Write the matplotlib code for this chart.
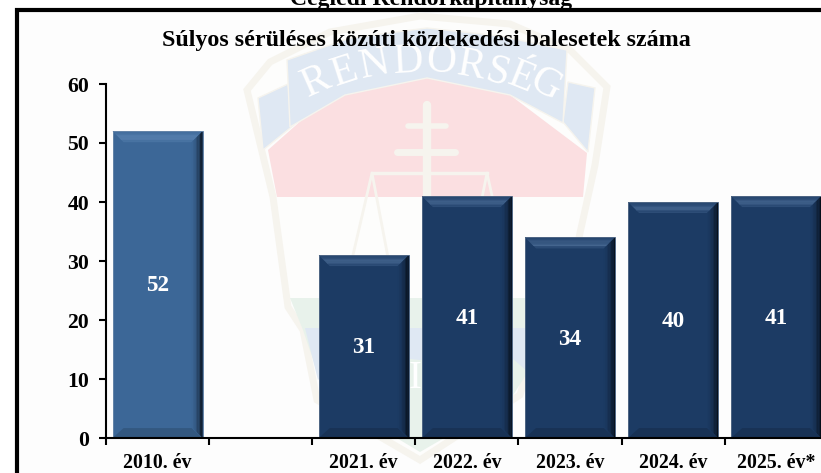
import matplotlib
matplotlib.use('Agg')
import matplotlib.pyplot as plt
from matplotlib.colors import to_rgb
from matplotlib.patches import Polygon, Rectangle

plt.rcParams['font.family'] = 'Liberation Serif'
plt.rcParams['font.weight'] = 'bold'

# data
categories = ['2010. év', '', '2021. év', '2022. év', '2023. év', '2024. év', '2025. év*']
positions = [0, 2, 3, 4, 5, 6]
values = [52, 31, 41, 34, 40, 41]
bar_colors = ['#3c6797', '#1c3b64', '#1c3b64', '#1c3b64', '#1c3b64', '#1c3b64']
y_ticks = [0, 10, 20, 30, 40, 50, 60]

page_title = 'Ceglédi Rendőrkapitányság'
chart_title = 'Súlyos sérüléses közúti közlekedési balesetek száma'


def mix(c1, c2, t):
    a, b = to_rgb(c1), to_rgb(c2)
    return tuple(a[i] + (b[i] - a[i]) * t for i in range(3))


fig = plt.figure(figsize=(8.21, 4.73), dpi=100)

# background layer in pixel coordinates: frame and faded badge
bg = fig.add_axes([0, 0, 1, 1], zorder=0)
bg.set_xlim(0, 821)
bg.set_ylim(473, 0)
bg.axis('off')
bg.add_patch(Rectangle((17, 9.6), 810, 470, fc='#fdfdfd', ec='black', lw=3))

beige = '#f6f4ee'
blue = '#dfe8f3'
red = '#fbdfe1'
green = '#e8f2eb'
badge = [(247, 90), (270, 62), (330, 32), (420, 16), (510, 24), (570, 50), (607, 87),
         (595, 165), (580, 233), (565, 305), (535, 345), (520, 395), (420, 460), (317, 400),
         (303, 330), (288, 307), (273, 197)]
bg.add_patch(Polygon(badge, fc='#fdfdfc', ec=beige, lw=5))
# red and green fields
bg.add_patch(Polygon([(277, 197), (268, 150), (330, 95), (427, 78), (510, 95), (587, 153), (583, 197)], fc=red, ec='none'))
bg.add_patch(Polygon([(290, 298), (568, 298), (545, 345), (510, 400), (420, 452), (325, 395), (303, 330)], fc=green, ec='none'))
# lower ribbon
bg.add_patch(Polygon([(305, 328), (555, 328), (535, 378), (505, 352), (420, 360), (345, 352), (318, 380)],
                     fc=blue, ec='none'))
# upper ribbon with its folded tails
bg.add_patch(Polygon([(258, 98), (288, 84), (294, 125), (263, 150)], fc=blue, ec=beige, lw=1))
bg.add_patch(Polygon([(595, 88), (568, 82), (563, 122), (588, 152)], fc=blue, ec=beige, lw=1))
bg.add_patch(Polygon([(287, 60), (350, 38), (427, 28), (500, 36), (567, 50), (563, 123), (510, 95),
                      (427, 78), (345, 95), (290, 127)], fc=blue, ec=beige, lw=1))
banner_letters = ['R', 'E', 'N', 'D', 'O', 'R', 'S', 'É', 'G']
letter_x = [316, 345, 375, 408, 441, 471, 497, 521, 545]
letter_y = [82, 72, 65, 62, 62, 66, 73, 78, 85]
letter_rot = [24, 18, 11, 3, -4, -10, -16, -22, -28]
for c, lx, ly, rot in zip(banner_letters, letter_x, letter_y, letter_rot):
    bg.text(lx, ly, c, color='white', fontsize=30, rotation=rot, ha='center', va='center', fontweight='normal')
# cross and scales
bg.plot([427, 427], [105, 300], color=beige, lw=6, solid_capstyle='round')
bg.plot([397, 455], [152, 152], color=beige, lw=5, solid_capstyle='round')
bg.plot([408, 446], [126, 126], color=beige, lw=4, solid_capstyle='round')
bg.plot([372, 487], [173, 173], color=beige, lw=2.5)
bg.plot([350, 372, 390], [268, 173, 268], color=beige, lw=2)
bg.plot([468, 487, 508], [268, 173, 268], color=beige, lw=2)
bg.text(415, 378, 'I', color='white', fontsize=28, ha='center', va='center', fontweight='normal')

bg.text(431, 5, page_title, fontsize=17.1, ha='center', va='baseline', color='black')

# chart, right edge runs off the picture like in the source
ax = fig.add_axes([106 / 821, 1 - 438 / 473, 715 / 821, 354 / 473], zorder=1)
ax.patch.set_alpha(0)
ax.set_xlim(-0.5, -0.5 + 715 / 103.1)
ax.set_ylim(0, 60)

bar_w = 90 / 103.1
px_x = 1 / 103.1
px_y = 60 / 354
bev = 11

bars = ax.bar(positions, values, width=bar_w, color=bar_colors, edgecolor='none', zorder=2)
for rect, val, col in zip(bars, values, bar_colors):
    x0, x1 = rect.get_x(), rect.get_x() + bar_w
    dx = bev * px_x
    dy = bev * px_y

    # top bevel, brightens downwards then drops back
    steps = 9
    for i in range(steps):
        t0, t1 = i / steps, (i + 1) / steps
        light = 0.1 + 0.42 * t0 if i < 7 else 0.15
        ax.add_patch(Polygon([(x0 + dx * t0, val - dy * t0), (x1 - dx * t0, val - dy * t0),
                              (x1 - dx * t1, val - dy * t1), (x0 + dx * t1, val - dy * t1)],
                             fc=mix(col, '#8fb4e0', light), ec='none', zorder=3))
    # right side goes dark towards the edge
    steps = 8
    for i in range(steps):
        t0, t1 = i / steps, (i + 1) / steps
        ax.add_patch(Polygon([(x1 - dx * t0, val - dy * t0), (x1 - dx * t1, val - dy * t1),
                              (x1 - dx * t1, dy * t1), (x1 - dx * t0, dy * t0)],
                             fc=mix(col, '#040a12', 0.9 * (1 - t0) ** 1.8), ec='none', zorder=3))
    # bottom bevel
    ax.add_patch(Polygon([(x0, 0), (x1, 0), (x1 - dx, dy * 0.9), (x0 + dx, dy * 0.9)],
                         fc=mix(col, 'black', 0.15), ec='none', zorder=3))
    # thin grey outline
    ax.add_patch(Rectangle((x0, 0), bar_w, val, fc='none', ec=mix(col, '#c8ccd2', 0.3), lw=0.7, zorder=4))

    ax.annotate(str(val), (rect.get_x() + bar_w / 2, val / 2), xytext=(0, -1), textcoords='offset points',
                color='white', fontsize=16.7, ha='center', va='center', zorder=5)

for s in ['top', 'right']:
    ax.spines[s].set_visible(False)
for s in ['left', 'bottom']:
    ax.spines[s].set_linewidth(1.5)
    ax.spines[s].set_zorder(6)

ax.set_yticks(y_ticks)
ax.set_xticks([i - 0.5 for i in range(7)])
ax.set_xticks(range(7), categories, minor=True)
ax.set_xticklabels([])
ax.tick_params(axis='y', length=5, width=1.5, pad=7, labelsize=15.7)
ax.tick_params(axis='x', which='major', length=5, width=1.5)
ax.tick_params(axis='x', which='minor', length=0, pad=11, labelsize=14.3)

fig.text(426.5 / 821, 1 - 40.5 / 473, chart_title, fontsize=17.3, ha='center', va='center', color='black', zorder=5)

fig.savefig('out.png', dpi=100)
